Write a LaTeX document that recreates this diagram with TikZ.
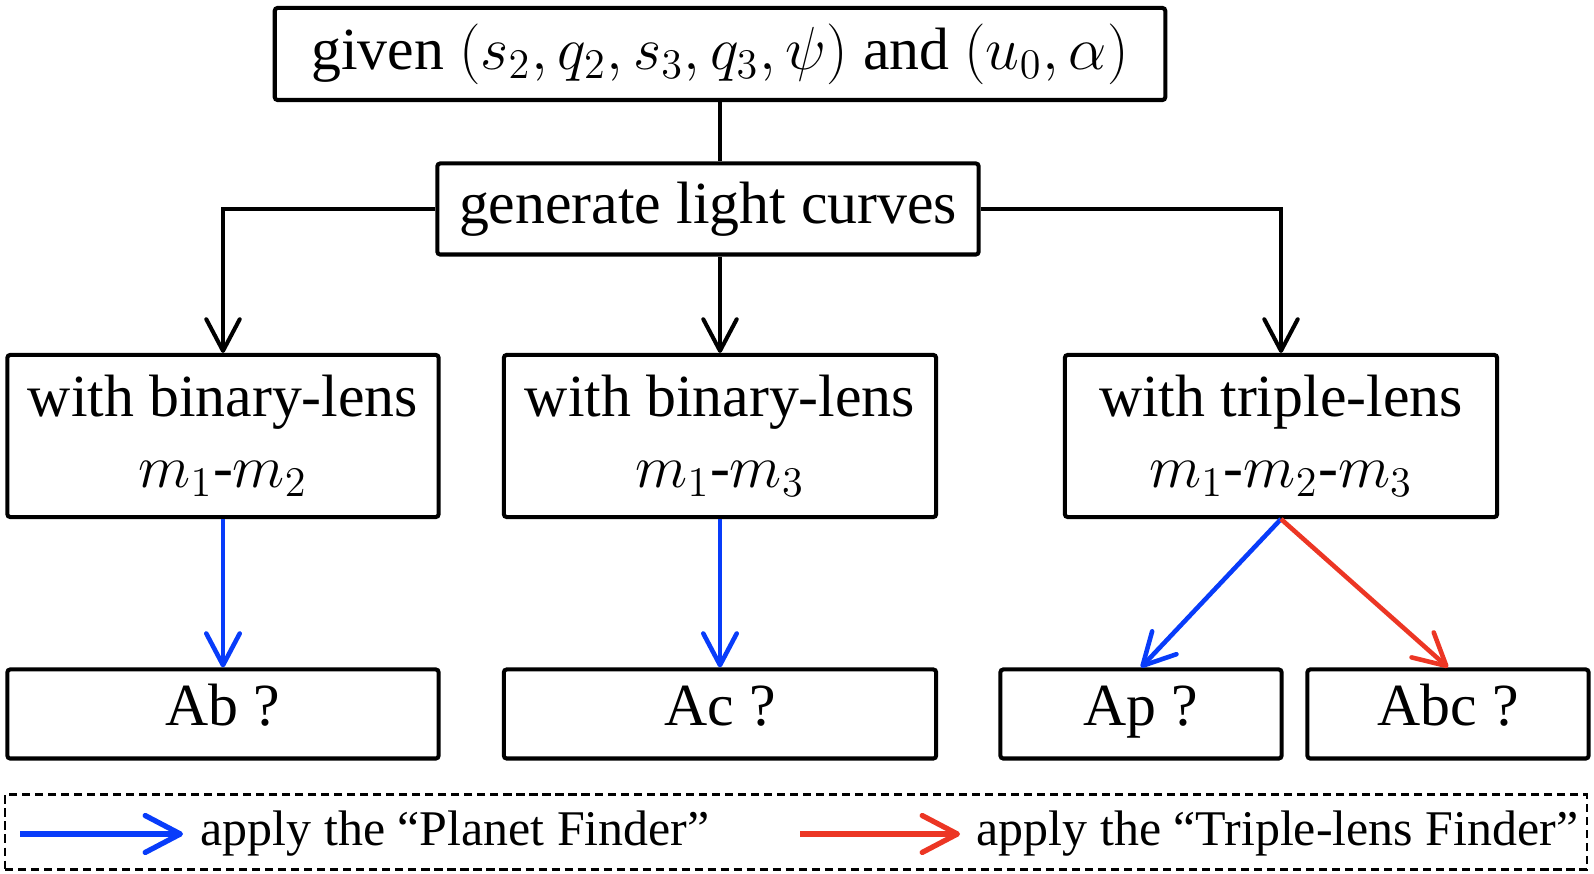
\documentclass[tikz,border=0pt]{standalone}
\usepackage{fontspec}
\setmainfont{Liberation Serif}
\usetikzlibrary{arrows.meta,positioning}
\definecolor{pfblue}{RGB}{8,60,250}
\definecolor{tlred}{RGB}{236,54,36}
\tikzset{font=\fontsize{17}{20.2}\selectfont}
\tikzstyle{blk}=[draw,line width=1.15pt,rounded corners=0.8pt,inner sep=0pt,align=center]
\tikzstyle{ans}=[draw,line width=1.15pt,rounded corners=0.8pt,inner sep=0pt,minimum height=0.89cm,text height=0.7em,text depth=0.04em]
\tikzstyle{link}=[line width=1.15pt]
\tikzstyle{flow}=[link,-{Straight Barb[round,length=9pt,width=9.5pt]}]
\tikzstyle{legflow}=[line width=1.5pt,-{Straight Barb[round,length=10pt,width=10.5pt]}]

\begin{document}
\begin{tikzpicture}[x=0.01cm,y=-0.01cm]
\useasboundingbox (0,0) rectangle (1594,874);
\node[blk,minimum width=8.9cm,minimum height=0.92cm] (given) at (720,54) {given $(s_2, q_2, s_3, q_3, \psi)$ and $(u_0, \alpha)$};
\node[blk,minimum width=5.41cm,minimum height=0.91cm] (gen) at (708,209) {generate light curves};
\node[blk,minimum width=4.31cm,minimum height=1.62cm] (bl12) at (223,436) {with binary-lens\\$m_1$-$m_2$};
\node[blk,minimum width=4.32cm,minimum height=1.62cm] (bl13) at (720,436) {with binary-lens\\$m_1$-$m_3$};
\node[blk,minimum width=4.32cm,minimum height=1.62cm] (tl) at (1281,436) {with triple-lens\\$m_1$-$m_2$-$m_3$};
\node[ans,minimum width=4.31cm] (Ab) at (223,714) {Ab ?};
\node[ans,minimum width=4.32cm] (Ac) at (720,714) {Ac ?};
\node[ans,minimum width=2.81cm] (Ap) at (1141,714) {Ap ?};
\node[ans,minimum width=2.81cm] (Abc) at (1448,714) {Abc ?};
\node[draw,line width=0.6pt,dash pattern=on 2.3pt off 1.4pt,minimum width=15.81cm,minimum height=0.75cm] (legend) at (796,832) {};
\draw[link] (given.south) -- (given.south |- gen.north);
\draw[flow] (gen.west) -| (bl12.north);
\draw[flow] (gen.south -| bl13.north) -- (bl13.north);
\draw[flow] (gen.east) -| (tl.north);
\path[flow,line width=1.3pt,pfblue]
(bl12.south) edge (Ab.north)
(bl13.south) edge (Ac.north)
(tl.south) edge (Ap.north);
\path[flow,line width=1.3pt,tlred]
(tl.south) edge (Abc.north);
\coordinate (pf0) at (20,834);
\coordinate (pf1) at (183,834);
\coordinate (tf0) at (800,834);
\coordinate (tf1) at (960,834);
\draw[legflow,pfblue] (pf0) -- (pf1);
\draw[legflow,tlred] (tf0) -- (tf1);
\node[right=0.17cm of pf1,inner sep=0pt,font=\fontsize{14.2}{17}\selectfont] (pflabel) {apply the “Planet Finder”};
\node[right=0.16cm of tf1,inner sep=0pt,font=\fontsize{14.2}{17}\selectfont] (tflabel) {apply the “Triple-lens Finder”};
\end{tikzpicture}
\end{document}
